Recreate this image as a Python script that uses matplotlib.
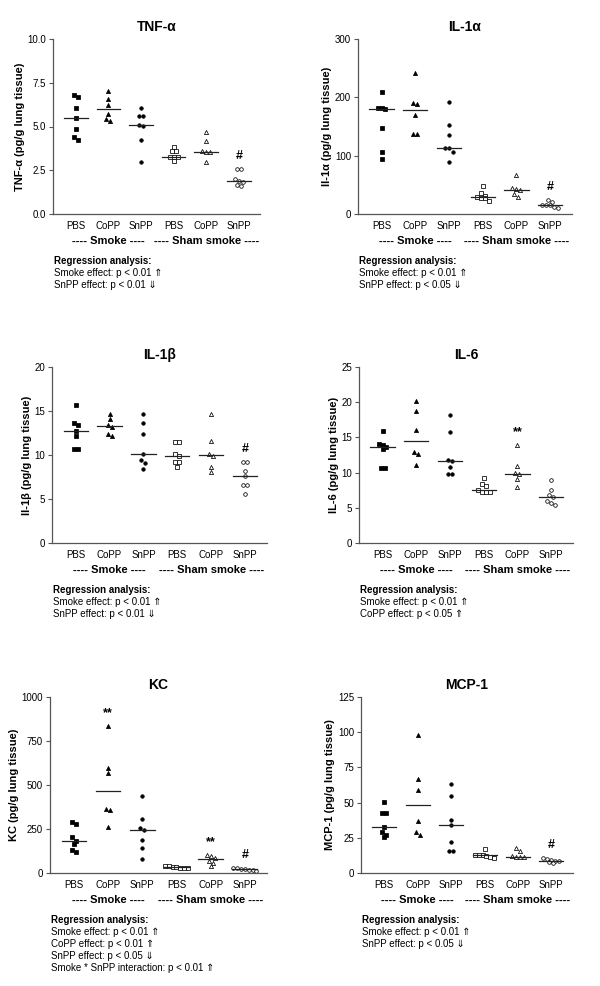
import numpy as np
import matplotlib.pyplot as plt

plt.rcParams['font.family'] = ['Liberation Sans', 'DejaVu Sans']

groups = ['PBS', 'CoPP', 'SnPP', 'PBS', 'CoPP', 'SnPP']

# values, one list per group (smoke PBS/CoPP/SnPP, sham PBS/CoPP/SnPP)
tnf = [[6.67, 6.78, 6.08, 5.50, 4.86, 4.42, 4.23],
       [7.03, 6.57, 6.25, 5.70, 5.41, 5.31],
       [6.08, 5.58, 5.58, 5.07, 5.01, 4.21, 2.97],
       [3.85, 3.58, 3.58, 3.24, 3.24, 3.24, 3.01],
       [4.70, 4.15, 3.62, 3.52, 3.52, 2.99],
       [2.59, 2.55, 1.99, 1.90, 1.83, 1.66, 1.62]]
il1a = [[209, 182, 180, 182, 148, 106, 94],
        [242, 190, 188, 170, 138, 138],
        [192, 153, 135, 113, 113, 107, 90],
        [48, 36, 31, 29, 28, 28, 23],
        [67, 45, 43, 41, 35, 30],
        [24, 20, 16, 15, 15, 12, 11]]
il1b = [[15.72, 13.67, 13.45, 12.69, 12.12, 10.64, 10.64],
        [14.62, 14.13, 13.45, 13.18, 12.39, 12.16],
        [14.70, 13.67, 12.42, 10.15, 9.39, 9.13, 8.37],
        [11.44, 11.44, 10.15, 9.92, 9.20, 9.20, 8.64],
        [14.66, 11.63, 10.15, 9.85, 8.64, 8.07],
        [9.20, 9.20, 8.14, 7.58, 6.63, 6.63, 5.57]]
il6 = [[15.86, 14.11, 13.87, 13.64, 13.30, 10.61, 10.61],
       [20.12, 18.70, 16.05, 12.93, 12.59, 11.08],
       [18.13, 15.77, 11.84, 11.65, 10.80, 9.75, 9.75],
       [9.23, 8.38, 8.14, 7.58, 7.20, 7.20, 7.20],
       [13.92, 10.98, 9.99, 9.75, 9.04, 7.95],
       [8.90, 7.58, 6.87, 6.58, 5.92, 5.73, 5.45]]
kc = [[290, 277, 203, 184, 165, 133, 117],
      [833, 598, 566, 366, 358, 263],
      [437, 307, 256, 242, 189, 140, 80],
      [38, 37, 35, 34, 30, 28, 26],
      [100, 95, 88, 68, 58, 42],
      [30, 26, 24, 22, 18, 15, 12]]
mcp1 = [[50.2, 42.4, 42.4, 33.0, 29.2, 26.8, 25.3],
        [97.8, 67.0, 59.0, 37.2, 29.2, 27.2],
        [63.0, 54.9, 37.4, 34.3, 21.8, 15.6, 15.6],
        [17.0, 13.0, 12.8, 12.5, 12.0, 11.5, 11.0],
        [17.8, 15.4, 11.8, 11.6, 11.4, 11.2],
        [10.6, 9.9, 9.2, 8.5, 8.2, 7.8, 7.3]]

panels = [tnf, il1a, il1b, il6, kc, mcp1]
titles = ['TNF-α', 'IL-1α', 'IL-1β', 'IL-6', 'KC', 'MCP-1']
ylabels = ['TNF-α (pg/g lung tissue)', 'Il-1α (pg/g lung tissue)',
           'Il-1β (pg/g lung tissue)', 'IL-6 (pg/g lung tissue)',
           'KC (pg/g lung tissue)', 'MCP-1 (pg/g lung tissue)']
ymaxes = [10, 300, 20, 25, 1000, 125]
ysteps = [2.5, 100, 5, 5, 250, 25]
marks = [[(5, '#')], [(5, '#')], [(5, '#')], [(4, '**')],
         [(1, '**'), (4, '**'), (5, '#')], [(5, '#')]]
regression = [
    ['Smoke effect: p < 0.01 ⇑', 'SnPP effect: p < 0.01 ⇓'],
    ['Smoke effect: p < 0.01 ⇑', 'SnPP effect: p < 0.05 ⇓'],
    ['Smoke effect: p < 0.01 ⇑', 'SnPP effect: p < 0.01 ⇓'],
    ['Smoke effect: p < 0.01 ⇑', 'CoPP effect: p < 0.05 ⇑'],
    ['Smoke effect: p < 0.01 ⇑', 'CoPP effect: p < 0.01 ⇑',
     'SnPP effect: p < 0.05 ⇓', 'Smoke * SnPP interaction: p < 0.01 ⇑'],
    ['Smoke effect: p < 0.01 ⇑', 'SnPP effect: p < 0.05 ⇓'],
]

# axes boxes in pixels: left, top, right, bottom
boxes = [(53, 39, 260, 214), (358, 39, 572, 214),
         (52, 367, 267, 543), (359, 367, 573, 543),
         (50, 697, 267, 873), (361, 697, 573, 873)]

markers = ['s', '^', 'o', 's', '^', 'o']
msizes = [2.6, 3.0, 2.5, 2.8, 3.0, 2.6]
XMIN, XMAX = 0.3, 6.65
W, H = 600, 986
axcol = '#555555'


def swarm(vals, ymax, h_px, unit_px, size_px=3.9):
    # put points of (almost) the same height side by side, centred
    vals = np.asarray(vals, float)
    order = np.argsort(-vals)
    offs = np.zeros(len(vals))
    i = 0
    while i < len(order):
        row = [order[i]]
        j = i + 1
        while j < len(order) and (vals[order[i]] - vals[order[j]]) / ymax * h_px < size_px:
            row.append(order[j])
            j += 1
        n = len(row)
        for k, idx in enumerate(row):
            offs[idx] = (k - (n - 1) / 2) * size_px / unit_px
        i = j
    return offs


fig = plt.figure(figsize=(6, 9.86), dpi=100)

for p in range(6):
    l, t, r, b = boxes[p]
    ax = fig.add_axes([l / W, 1 - b / H, (r - l) / W, (b - t) / H])
    data = panels[p]
    ymax = ymaxes[p]
    unit_px = (r - l) / (XMAX - XMIN)
    for g in range(6):
        vals = np.array(data[g])
        xs = g + 1 + swarm(vals, ymax, b - t, unit_px)
        face = 'black' if g < 3 else 'white'
        ax.plot(xs, vals, linestyle='none', marker=markers[g], ms=msizes[g],
                mfc=face, mec='black', mew=0.55, clip_on=False)
        med = np.median(vals)
        ax.plot([g + 1 - 0.36, g + 1 + 0.36], [med, med], color='#222222', lw=0.9)

    for g, s in marks[p]:
        ytxt = max(data[g]) + 0.075 * ymax
        ax.text(g + 1, ytxt, s, ha='center', va='center', fontsize=9, fontweight='bold')

    ax.set_xlim(XMIN, XMAX)
    ax.set_ylim(0, ymax)
    ticks = np.arange(0, ymax + ysteps[p] / 2, ysteps[p])
    ax.set_yticks(ticks)
    if p == 0:
        ax.set_yticklabels(['%.1f' % v for v in ticks])
    else:
        ax.set_yticklabels(['%d' % v for v in ticks])
    ax.set_xticks(range(1, 7))
    ax.set_xticklabels(groups)
    ax.tick_params(axis='x', length=0, pad=5, labelsize=7)
    ax.tick_params(axis='y', length=3, width=0.8, color=axcol, pad=2, labelsize=7)
    for side in ['top', 'right']:
        ax.spines[side].set_visible(False)
    for side in ['left', 'bottom']:
        ax.spines[side].set_color(axcol)
        ax.spines[side].set_linewidth(0.9)

    ax.set_title(titles[p], fontsize=10, fontweight='bold', pad=6)
    ax.set_ylabel(ylabels[p], fontsize=8, fontweight='bold', labelpad=2)

    ax.annotate('---- Smoke ----', xy=(2, 0), xycoords=('data', 'axes fraction'),
                xytext=(0, -27), textcoords='offset pixels',
                ha='center', va='center', fontsize=8, fontweight='bold')
    ax.annotate('---- Sham smoke ----', xy=(5, 0), xycoords=('data', 'axes fraction'),
                xytext=(0, -27), textcoords='offset pixels',
                ha='center', va='center', fontsize=8, fontweight='bold')

    ax.annotate('Regression analysis:', xy=(0, 0), xycoords='axes fraction',
                xytext=(1, -47), textcoords='offset pixels',
                ha='left', va='center', fontsize=7, fontweight='bold')
    for k, line in enumerate(regression[p]):
        ax.annotate(line, xy=(0, 0), xycoords='axes fraction',
                    xytext=(1, -47 - 12 * (k + 1)), textcoords='offset pixels',
                    ha='left', va='center', fontsize=7)

fig.savefig('out.png', dpi=100)
